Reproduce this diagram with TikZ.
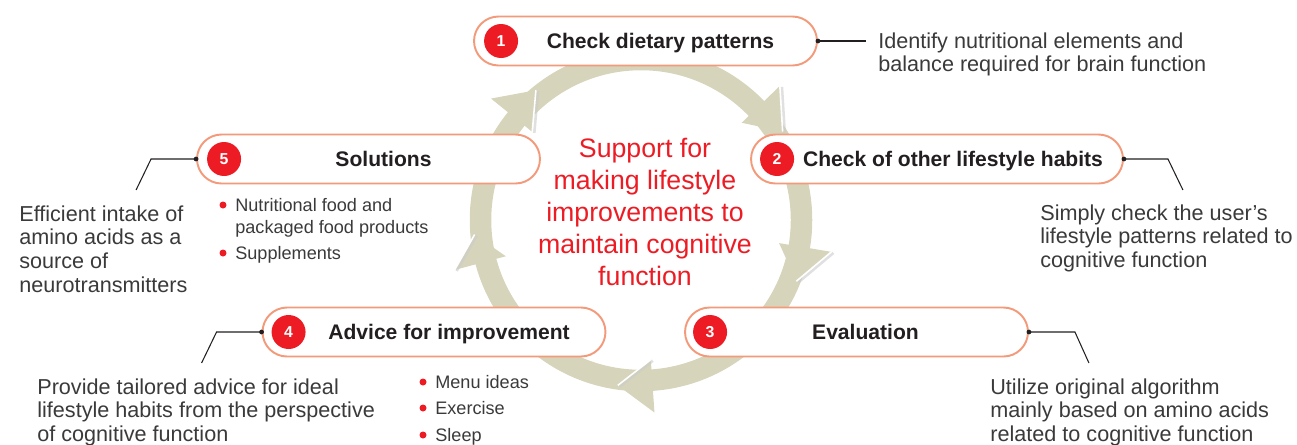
\documentclass[tikz,border=0pt]{standalone}
\usepackage{fontspec}
\setmainfont{Liberation Sans}
\usetikzlibrary{calc,positioning}
\definecolor{ringbeige}{RGB}{214,212,186}
\definecolor{pillorange}{RGB}{243,154,123}
\definecolor{badgered}{RGB}{237,28,36}
\definecolor{labelgray}{RGB}{35,31,32}
\definecolor{textgray}{RGB}{58,58,58}
\tikzset{
  pill/.style={draw=pillorange, line width=1.1pt, fill=white, rounded corners=0.49cm,
    minimum width=6.86cm, minimum height=0.98cm, inner sep=0pt},
  badge/.style={circle, fill=badgered, minimum size=0.68cm, inner sep=0pt, text=white,
    font=\bfseries\fontsize{9}{11}\selectfont},
  steplabel/.style={text=labelgray, anchor=base, inner sep=0pt, font=\bfseries\fontsize{12}{14}\selectfont},
  desc/.style={text=textgray, align=left, anchor=north west, inner sep=0pt,
    font=\fontsize{12.3}{13.5}\selectfont},
  itemtext/.style={text=textgray, align=left, anchor=north west, inner sep=0pt,
    font=\fontsize{10.3}{12.5}\selectfont},
  reddot/.style={circle, fill=badgered, minimum size=0.14cm, inner sep=0pt},
  leader/.style={draw=labelgray, line width=0.6pt},
  hubtext/.style={text=badgered, align=center, inner sep=0pt, font=\fontsize{15.2}{18.1}\selectfont}
}
\begin{document}
\begin{tikzpicture}[x=0.02cm, y=-0.02cm]
  \useasboundingbox (0,0) rectangle (1297,444);
  \coordinate (ringc) at (641,220);
  \draw[ringbeige, line width=0.43cm] (ringc) circle (160.5);
  \foreach \a/\t/\r in {-44/12/193, 9.5/12/193, 86/12/140, 165/10/193, 219/12/140} {
    \fill[ringbeige] ($(ringc)+(\a:140)$) -- ($(ringc)+(\a:193)$) -- ($(ringc)+(\a+\t:167)$) -- cycle;
    \draw[black!20, line width=1.6pt, opacity=0.6] ($(ringc)+(\a:\r)+(2,1)$) -- ($(ringc)+(\a+\t:167)+(2,1)$);
    \draw[white, line width=0.9pt] ($(ringc)+(\a:\r)$) -- ($(ringc)+(\a+\t:167)$);
  }

  \node[hubtext] (hub) at (645,212) {Support for\\making lifestyle\\improvements to\\maintain cognitive\\function};

  \node[pill] (b1) at (645.5,41) {};
  \node[pill, minimum width=7.44cm] (b2) at (937,159) {};
  \node[pill] (b3) at (856.5,332) {};
  \node[pill] (b4) at (434,332) {};
  \node[pill] (b5) at (368.5,159) {};

  \node[badge] (n1) at ($(b1.west)+(28,0)$) {1};
  \node[badge] (n2) at ($(b2.west)+(27,0)$) {2};
  \node[badge] (n3) at ($(b3.west)+(26,0)$) {3};
  \node[badge] (n4) at ($(b4.west)+(27,0)$) {4};
  \node[badge] (n5) at ($(b5.west)+(28,0)$) {5};

  \node[steplabel] (t1) at ($(b1.center)+(15,7.5)$) {Check dietary patterns};
  \node[steplabel] (t2) at ($(b2.center)+(16,7.5)$) {Check of other lifestyle habits};
  \node[steplabel] (t3) at ($(b3.center)+(9,7.5)$) {Evaluation};
  \node[steplabel] (t4) at ($(b4.center)+(15,7.5)$) {Advice for improvement};
  \node[steplabel] (t5) at ($(b5.center)+(15,7.5)$) {Solutions};

  \coordinate (k1) at ($(b1.east)+(48,0)$);
  \coordinate (k2a) at ($(b2.east)+(44,0)$);
  \coordinate (k2b) at ($(k2a)+(15,31)$);
  \coordinate (k3a) at ($(b3.east)+(46,0)$);
  \coordinate (k3b) at ($(k3a)+(14,31)$);
  \coordinate (k4a) at ($(b4.west)+(-45,0)$);
  \coordinate (k4b) at ($(k4a)+(-15,31)$);
  \coordinate (k5a) at ($(b5.west)+(-45,0)$);
  \coordinate (k5b) at ($(k5a)+(-15,31)$);
  \draw[leader] (b1.east) -- (k1);
  \draw[leader] (b2.east) -- (k2a) -- (k2b);
  \draw[leader] (b3.east) -- (k3a) -- (k3b);
  \draw[leader] (b4.west) -- (k4a) -- (k4b);
  \draw[leader] (b5.west) -- (k5a) -- (k5b);
  \foreach \b in {b1.east, b2.east, b3.east, b4.west, b5.west}
    \fill[labelgray] (\b) circle (2.4);

  \node[desc] (d1) at (878,32) {Identify nutritional elements and\\balance required for brain function};
  \node[desc] (d2) at (1040,204) {Simply check the user’s\\lifestyle patterns related to\\cognitive function};
  \node[desc] (d3) at (990,378) {Utilize original algorithm\\mainly based on amino acids\\related to cognitive function};
  \node[desc] (d4) at (37,378) {Provide tailored advice for ideal\\lifestyle habits from the perspective\\of cognitive function};
  \node[desc] (d5) at (19,205) {Efficient intake of\\amino acids as a\\source of\\neurotransmitters};

  \node[itemtext] (s1) at (235,198.5) {Nutritional food and\\packaged food products};
  \node[itemtext] (s2) at (235,246.5) {Supplements};
  \node[reddot] at (223,205) {};
  \node[reddot] at (223,253) {};
  \node[itemtext] (a1) at (435,375.5) {Menu ideas};
  \node[itemtext] (a2) at (435,401.5) {Exercise};
  \node[itemtext] (a3) at (435,428.5) {Sleep};
  \node[reddot] at (423,382) {};
  \node[reddot] at (423,408) {};
  \node[reddot] at (423,435) {};
\end{tikzpicture}
\end{document}
